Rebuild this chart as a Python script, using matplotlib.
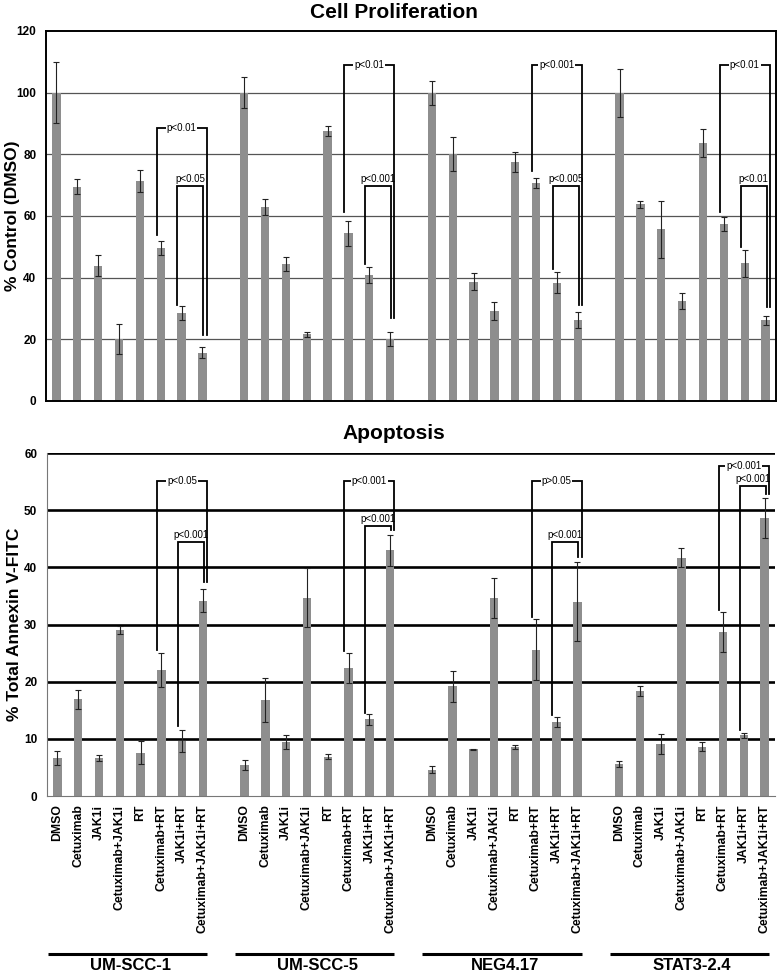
import numpy as np
import matplotlib
matplotlib.use("Agg")
import matplotlib.pyplot as plt
import matplotlib.transforms as mtransforms

plt.rcParams['font.family'] = ['Liberation Sans', 'DejaVu Sans']

treatments = ["DMSO", "Cetuximab", "JAK1i", "Cetuximab+JAK1i", "RT",
              "Cetuximab+RT", "JAK1i+RT", "Cetuximab+JAK1i+RT"]
cell_lines = ["UM-SCC-1", "UM-SCC-5", "NEG4.17", "STAT3-2.4"]

# Cell proliferation, % of DMSO control (one list per cell line)
prolif = [
    [100, 69.5, 43.9, 20.1, 71.4, 49.6, 28.4, 15.7],
    [100, 62.9, 44.4, 21.6, 87.6, 54.4, 40.8, 20.1],
    [100, 80.1, 38.7, 29.3, 77.5, 70.7, 38.4, 26.3],
    [100, 63.8, 55.7, 32.4, 83.6, 57.4, 44.6, 26.1],
]
prolif_err = [
    [10.0, 2.5, 3.3, 4.8, 3.5, 2.2, 2.3, 1.9],
    [5.0, 2.7, 2.4, 0.7, 1.6, 4.1, 2.5, 2.4],
    [3.9, 5.5, 2.8, 2.9, 3.1, 1.7, 3.4, 2.7],
    [7.8, 1.1, 9.2, 2.5, 4.6, 2.2, 4.4, 1.4],
]

# Apoptosis, % total Annexin V-FITC
apop = [
    [6.6, 16.9, 6.6, 29.1, 7.6, 22.1, 9.6, 34.2],
    [5.4, 16.8, 9.5, 34.7, 6.9, 22.4, 13.4, 43.0],
    [4.6, 19.2, 8.2, 34.7, 8.6, 25.6, 12.9, 34.0],
    [5.6, 18.4, 9.1, 41.7, 8.6, 28.7, 10.6, 48.7],
]
apop_err = [
    [1.2, 1.6, 0.5, 0.7, 2.0, 3.0, 1.9, 2.0],
    [0.9, 3.8, 1.2, 5.2, 0.4, 2.6, 0.9, 2.7],
    [0.6, 2.7, 0.1, 3.5, 0.3, 5.3, 0.9, 6.9],
    [0.6, 0.9, 1.7, 1.6, 0.8, 3.5, 0.5, 3.5],
]

# significance brackets: (top, left end, right end, label)
prolif_big = [(88.6, 53.8, 21.4, "p<0.01"), (108.8, 61.4, 26.8, "p<0.01"),
              (108.8, 74.7, 31.1, "p<0.001"), (108.8, 61.4, 30.6, "p<0.01")]
prolif_small = [(69.8, 31.1, 21.4, "p<0.05"), (69.8, 44.3, 26.8, "p<0.001"),
                (69.8, 42.7, 31.1, "p<0.005"), (69.8, 50.0, 30.6, "p<0.01")]
apop_big = [(55.1, 25.6, 37.5, "p<0.05"), (55.1, 25.4, 46.5, "p<0.001"),
            (55.1, 31.3, 41.8, "p>0.05"), (57.8, 32.6, 52.9, "p<0.001")]
apop_small = [(44.4, 12.2, 37.5, "p<0.001"), (47.2, 14.6, 46.5, "p<0.001"),
              (44.4, 14.2, 41.8, "p<0.001"), (54.2, 11.6, 52.9, "p<0.001")]

bar_color = '#8e8e8e'
fig = plt.figure(figsize=(7.78, 9.73), dpi=100)


def positions(g):
    return np.arange(8) + g * 9


def bracket(ax, x1, x2, top, yl, yr, label, inline):
    ax.plot([x1, x1, x2, x2], [yl, top, top, yr], color='black', lw=1.3,
            solid_joinstyle='miter', zorder=4)
    if inline:
        ax.text((x1 + x2) / 2, top, label, ha='center', va='center',
                fontsize=7, zorder=5,
                bbox=dict(facecolor='white', edgecolor='none', pad=0.6))
    else:
        ax.annotate(label, ((x1 + x2) / 2, top), xytext=(0, 1.5),
                    textcoords='offset points', ha='center', va='bottom',
                    fontsize=7, zorder=5)


def draw_panel(ax, vals, errs, big, small):
    for g in range(4):
        x = positions(g)
        ax.bar(x, vals[g], width=0.4, color=bar_color, zorder=2)
        ax.errorbar(x, vals[g], yerr=errs[g], fmt='none', ecolor='#222222',
                    elinewidth=0.8, capsize=2.2, capthick=0.8, zorder=3)
        t, yl, yr, lab = big[g]
        bracket(ax, x[5] - 0.2, x[7] + 0.2, t, yl, yr, lab, True)
        t, yl, yr, lab = small[g]
        bracket(ax, x[6] - 0.2, x[7] + 0.05, t, yl, yr, lab, False)
    ax.set_xlim(-0.5, 34.5)
    ax.set_xticks([])
    ax.tick_params(axis='y', length=0, labelsize=8.5, pad=7)
    for lab in ax.get_yticklabels():
        lab.set_fontweight('bold')
    ax.yaxis.set_label_coords(-0.035, 0.5)


# top panel: cell proliferation
ax1 = fig.add_axes([0.0591, 0.5879, 0.9383, 0.3803])
ax1.set_ylim(0, 120)
ax1.set_yticks(np.arange(0, 121, 20))
draw_panel(ax1, prolif, prolif_err, prolif_big, prolif_small)
for y in range(20, 101, 20):
    ax1.axhline(y, color='#555555', lw=0.9, zorder=1)
for s in ax1.spines.values():
    s.set_linewidth(1.4)
ax1.set_ylabel('% Control (DMSO)', fontsize=12.5, fontweight='bold')
fig.text(0.506, 0.987, 'Cell Proliferation', ha='center', va='center',
         fontsize=15, fontweight='bold')

# bottom panel: apoptosis
ax2 = fig.add_axes([0.0604, 0.1819, 0.9357, 0.3525])
ax2.set_ylim(0, 60)
ax2.set_yticks(np.arange(0, 61, 10))
draw_panel(ax2, apop, apop_err, apop_big, apop_small)
for y in range(10, 61, 10):
    ax2.axhline(y, color='black', lw=1.9, zorder=1)
ax2.spines['top'].set_visible(False)
ax2.spines['right'].set_visible(False)
ax2.spines['left'].set_color('#777777')
ax2.spines['bottom'].set_color('#777777')
ax2.set_ylabel('% Total Annexin V-FITC', fontsize=12.5, fontweight='bold')
fig.text(0.506, 0.554, 'Apoptosis', ha='center', va='center',
         fontsize=15, fontweight='bold')

# rotated treatment labels under the bottom panel
for g in range(4):
    for xi, name in zip(positions(g), treatments):
        ax2.text(xi, -1.5, name, rotation=90, ha='center', va='top',
                 fontsize=8.8, fontweight='bold')

# cell line labels with underline bars
trans = mtransforms.blended_transform_factory(ax2.transData, fig.transFigure)
for g, name in enumerate(cell_lines):
    x0 = g * 9
    ax2.plot([x0 - 0.45, x0 + 7.2], [1 - 954 / 973] * 2, color='black',
             lw=2.2, transform=trans, clip_on=False, solid_capstyle='butt')
    ax2.text(x0 + 3.5, 1 - 958 / 973, name, transform=trans, ha='center',
             va='top', fontsize=12, fontweight='bold')

plt.savefig('out.png', dpi=100)
